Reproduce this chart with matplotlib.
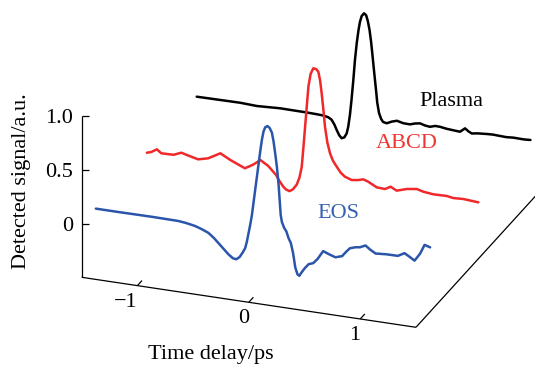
import matplotlib.pyplot as plt
import numpy as np

plt.rcParams['font.family'] = ['Liberation Serif', 'DejaVu Serif']

# --- data: time delay (ps) and detected signal (a.u.) ---
eos_t = [-1.51, -1.31, -1.01, -0.77, -0.70, -0.62, -0.56, -0.50, -0.45, -0.41,
         -0.36, -0.32, -0.28, -0.25, -0.22, -0.19, -0.17, -0.155, -0.14, -0.125,
         -0.11, -0.095, -0.08, -0.065, -0.05, -0.035, -0.02, -0.005, 0.01, 0.03,
         0.05, 0.07, 0.085, 0.10, 0.115, 0.13, 0.149, 0.16, 0.18, 0.20, 0.22,
         0.24, 0.26, 0.28, 0.30, 0.316, 0.34, 0.367, 0.40, 0.44, 0.48, 0.53,
         0.58, 0.64, 0.70, 0.74, 0.77, 0.82, 0.86, 0.91, 0.95, 1.00, 1.10, 1.20,
         1.26, 1.30, 1.35, 1.40, 1.44, 1.49]
eos_s = [-0.012, -0.012, -0.01, -0.012, -0.02, -0.035, -0.055, -0.08, -0.12, -0.16,
         -0.21, -0.25, -0.28, -0.285, -0.26, -0.21, -0.17, -0.11, -0.03, 0.05,
         0.14, 0.26, 0.38, 0.50, 0.62, 0.74, 0.85, 0.93, 0.97, 0.985,
         0.97, 0.93, 0.85, 0.74, 0.62, 0.46, 0.184, 0.12, 0.07, 0.04, -0.02,
         -0.06, -0.15, -0.28, -0.34, -0.35, -0.31, -0.27, -0.23, -0.215, -0.17, -0.09,
         -0.11, -0.13, -0.11, -0.06, -0.027, -0.01, -0.004, 0.02, -0.01, -0.04, -0.032, -0.031,
         0.003, -0.02, -0.052, 0.02, 0.107, 0.092]

abcd_t = [-1.51, -1.47, -1.42, -1.38, -1.27, -1.20, -1.15, -1.05, -0.96, -0.85,
          -0.76, -0.63, -0.56, -0.49, -0.42, -0.35, -0.32, -0.285, -0.26, -0.23,
          -0.20, -0.165, -0.14, -0.12, -0.105, -0.09, -0.075, -0.06, -0.04, -0.016,
          0.01, 0.029, 0.045, 0.059, 0.075, 0.089, 0.11, 0.134, 0.16, 0.194, 0.23,
          0.268, 0.328, 0.38, 0.433, 0.477, 0.553, 0.627, 0.678, 0.732, 0.822,
          0.912, 0.971, 1.061, 1.181, 1.24, 1.33, 1.465]
abcd_s = [-0.013, 0.0, 0.032, 0.002, 0.005, 0.035, 0.021, -0.003, 0.02, 0.083,
          0.035, -0.021, 0.021, 0.076, 0.032, -0.04, -0.09, -0.138, -0.16, -0.17,
          -0.15, -0.10, -0.03, 0.07, 0.25, 0.44, 0.63, 0.82, 0.94, 0.994,
          0.99, 0.969, 0.89, 0.775, 0.62, 0.47, 0.33, 0.234, 0.17, 0.12, 0.07,
          0.039, 0.018, 0.025, 0.04, 0.025, -0.015, -0.019, 0.01, -0.018, 0.011,
          0.025, 0.009, -0.001, 0.002, -0.008, -0.003, -0.013]

plasma_t = [-1.52, -1.13, -0.98, -0.77, -0.53, -0.45, -0.384, -0.34, -0.31, -0.285,
            -0.264, -0.24, -0.219, -0.195, -0.174, -0.16, -0.145, -0.131, -0.115, -0.10,
            -0.084, -0.068, -0.055, -0.04, -0.019, 0.0, 0.015, 0.031, 0.045, 0.057,
            0.073, 0.089, 0.10, 0.116, 0.135, 0.152, 0.185, 0.23, 0.277, 0.334,
            0.394, 0.44, 0.484, 0.53, 0.573, 0.62, 0.663, 0.72, 0.771, 0.843,
            0.888, 0.92, 0.948, 1.0, 1.082, 1.14, 1.202, 1.26, 1.321, 1.417, 1.475]
plasma_s = [-0.014, -0.01, -0.017, -0.006, -0.008, -0.01, -0.013, -0.022, -0.04, -0.08,
            -0.128, -0.175, -0.197, -0.185, -0.145, -0.08, 0.03, 0.169, 0.35, 0.542,
            0.70, 0.823, 0.90, 0.955, 0.984, 0.97, 0.92, 0.838, 0.73, 0.612,
            0.45, 0.294, 0.18, 0.087, 0.035, 0.01, 0.003, 0.025, 0.04, 0.026,
            0.025, 0.04, 0.048, 0.035, 0.03, 0.045, 0.044, 0.035, 0.031, 0.026,
            0.064, 0.04, 0.026, 0.035, 0.042, 0.045, 0.042, 0.04, 0.045, 0.043, 0.047]

series_t = [eos_t, abcd_t, plasma_t]
series_s = [eos_s, abcd_s, plasma_s]
series_names = ['EOS', 'ABCD', 'Plasma']
series_depth = [0.3, 1.3, 2.3]

time_ticks = [-1, 0, 1]
time_labels = ['\u22121', '0', '1']
signal_ticks = [0, 0.5, 1.0]
signal_labels = ['0', '0.5', '1.0']

# --- oblique projection (pixel space) ---
X0, Y0 = 248.8, 249.3          # t=0, s=0, depth=0
TX, TY = 111.43, 16.67         # per ps
SY = -108.6                    # per a.u.
DX, DY = 51.0, -56.0           # per depth step
T_MIN, T_MAX = -1.5, 1.5
S_FLOOR, S_TOP = -0.488, 1.0


def proj(t, s, d=0.0):
    t = np.asarray(t, dtype=float)
    s = np.asarray(s, dtype=float)
    return X0 + t * TX + d * DX, Y0 + t * TY + s * SY + d * DY


fig = plt.figure(figsize=(5.35, 3.71), dpi=100)
fig.patch.set_facecolor('white')
ax = fig.add_axes([0, 0, 1, 1])
ax.set_xlim(0, 535)
ax.set_ylim(371, 0)
ax.axis('off')

colors = ['#2b55aa', '#f0282a', '#000000']
label_colors = ['#3560b5', '#f03535', '#000000']
label_pos = [(338.3, 218.3), (406.7, 148.3), (451.0, 106.0)]

# frame: signal axis, time axis, depth axis
axis_kw = dict(color='black', lw=0.9, solid_capstyle='butt')
ax.plot(*proj([T_MIN, T_MIN], [S_TOP, S_FLOOR]), **axis_kw)
ax.plot(*proj([T_MIN, T_MAX], [S_FLOOR, S_FLOOR]), **axis_kw)
xe, ye = proj(T_MAX, S_FLOOR)
ax.plot([xe, xe + 3.0 * DX], [ye, ye + 3.0 * DY], **axis_kw)

# signal ticks (horizontal, pointing inwards)
for v, lab in zip(signal_ticks, signal_labels):
    x, y = proj(T_MIN, v)
    ax.plot([x, x + 7], [y, y], **axis_kw)
    ax.text(x - 8.4, y + 6.9, lab, fontsize=16, ha='right', va='baseline')

# time ticks (along depth direction)
for v, lab in zip(time_ticks, time_labels):
    x, y = proj(v, S_FLOOR)
    ax.plot([x, x + 0.09 * DX], [y, y + 0.09 * DY], **axis_kw)
    ax.text(x + 0.5, y + 21, lab, fontsize=16, ha='right', va='baseline')

# traces, back to front
for t, s, d, c, name, lc, (lx, ly) in reversed(list(zip(
        series_t, series_s, series_depth, colors, series_names,
        label_colors, label_pos))):
    px, py = proj(t, s, d)
    ax.plot(px, py, color=c, lw=1.8, solid_joinstyle='round',
            solid_capstyle='round')
    ax.text(lx, ly, name, color=lc, fontsize=16, ha='center', va='baseline')

ax.text(22, 181, 'Detected signal/a.u.', fontsize=16, rotation=90,
        ha='center', va='center')
ax.text(210.5, 359.5, 'Time delay/ps', fontsize=16, ha='center', va='baseline')

fig.savefig('out.png', dpi=100)
